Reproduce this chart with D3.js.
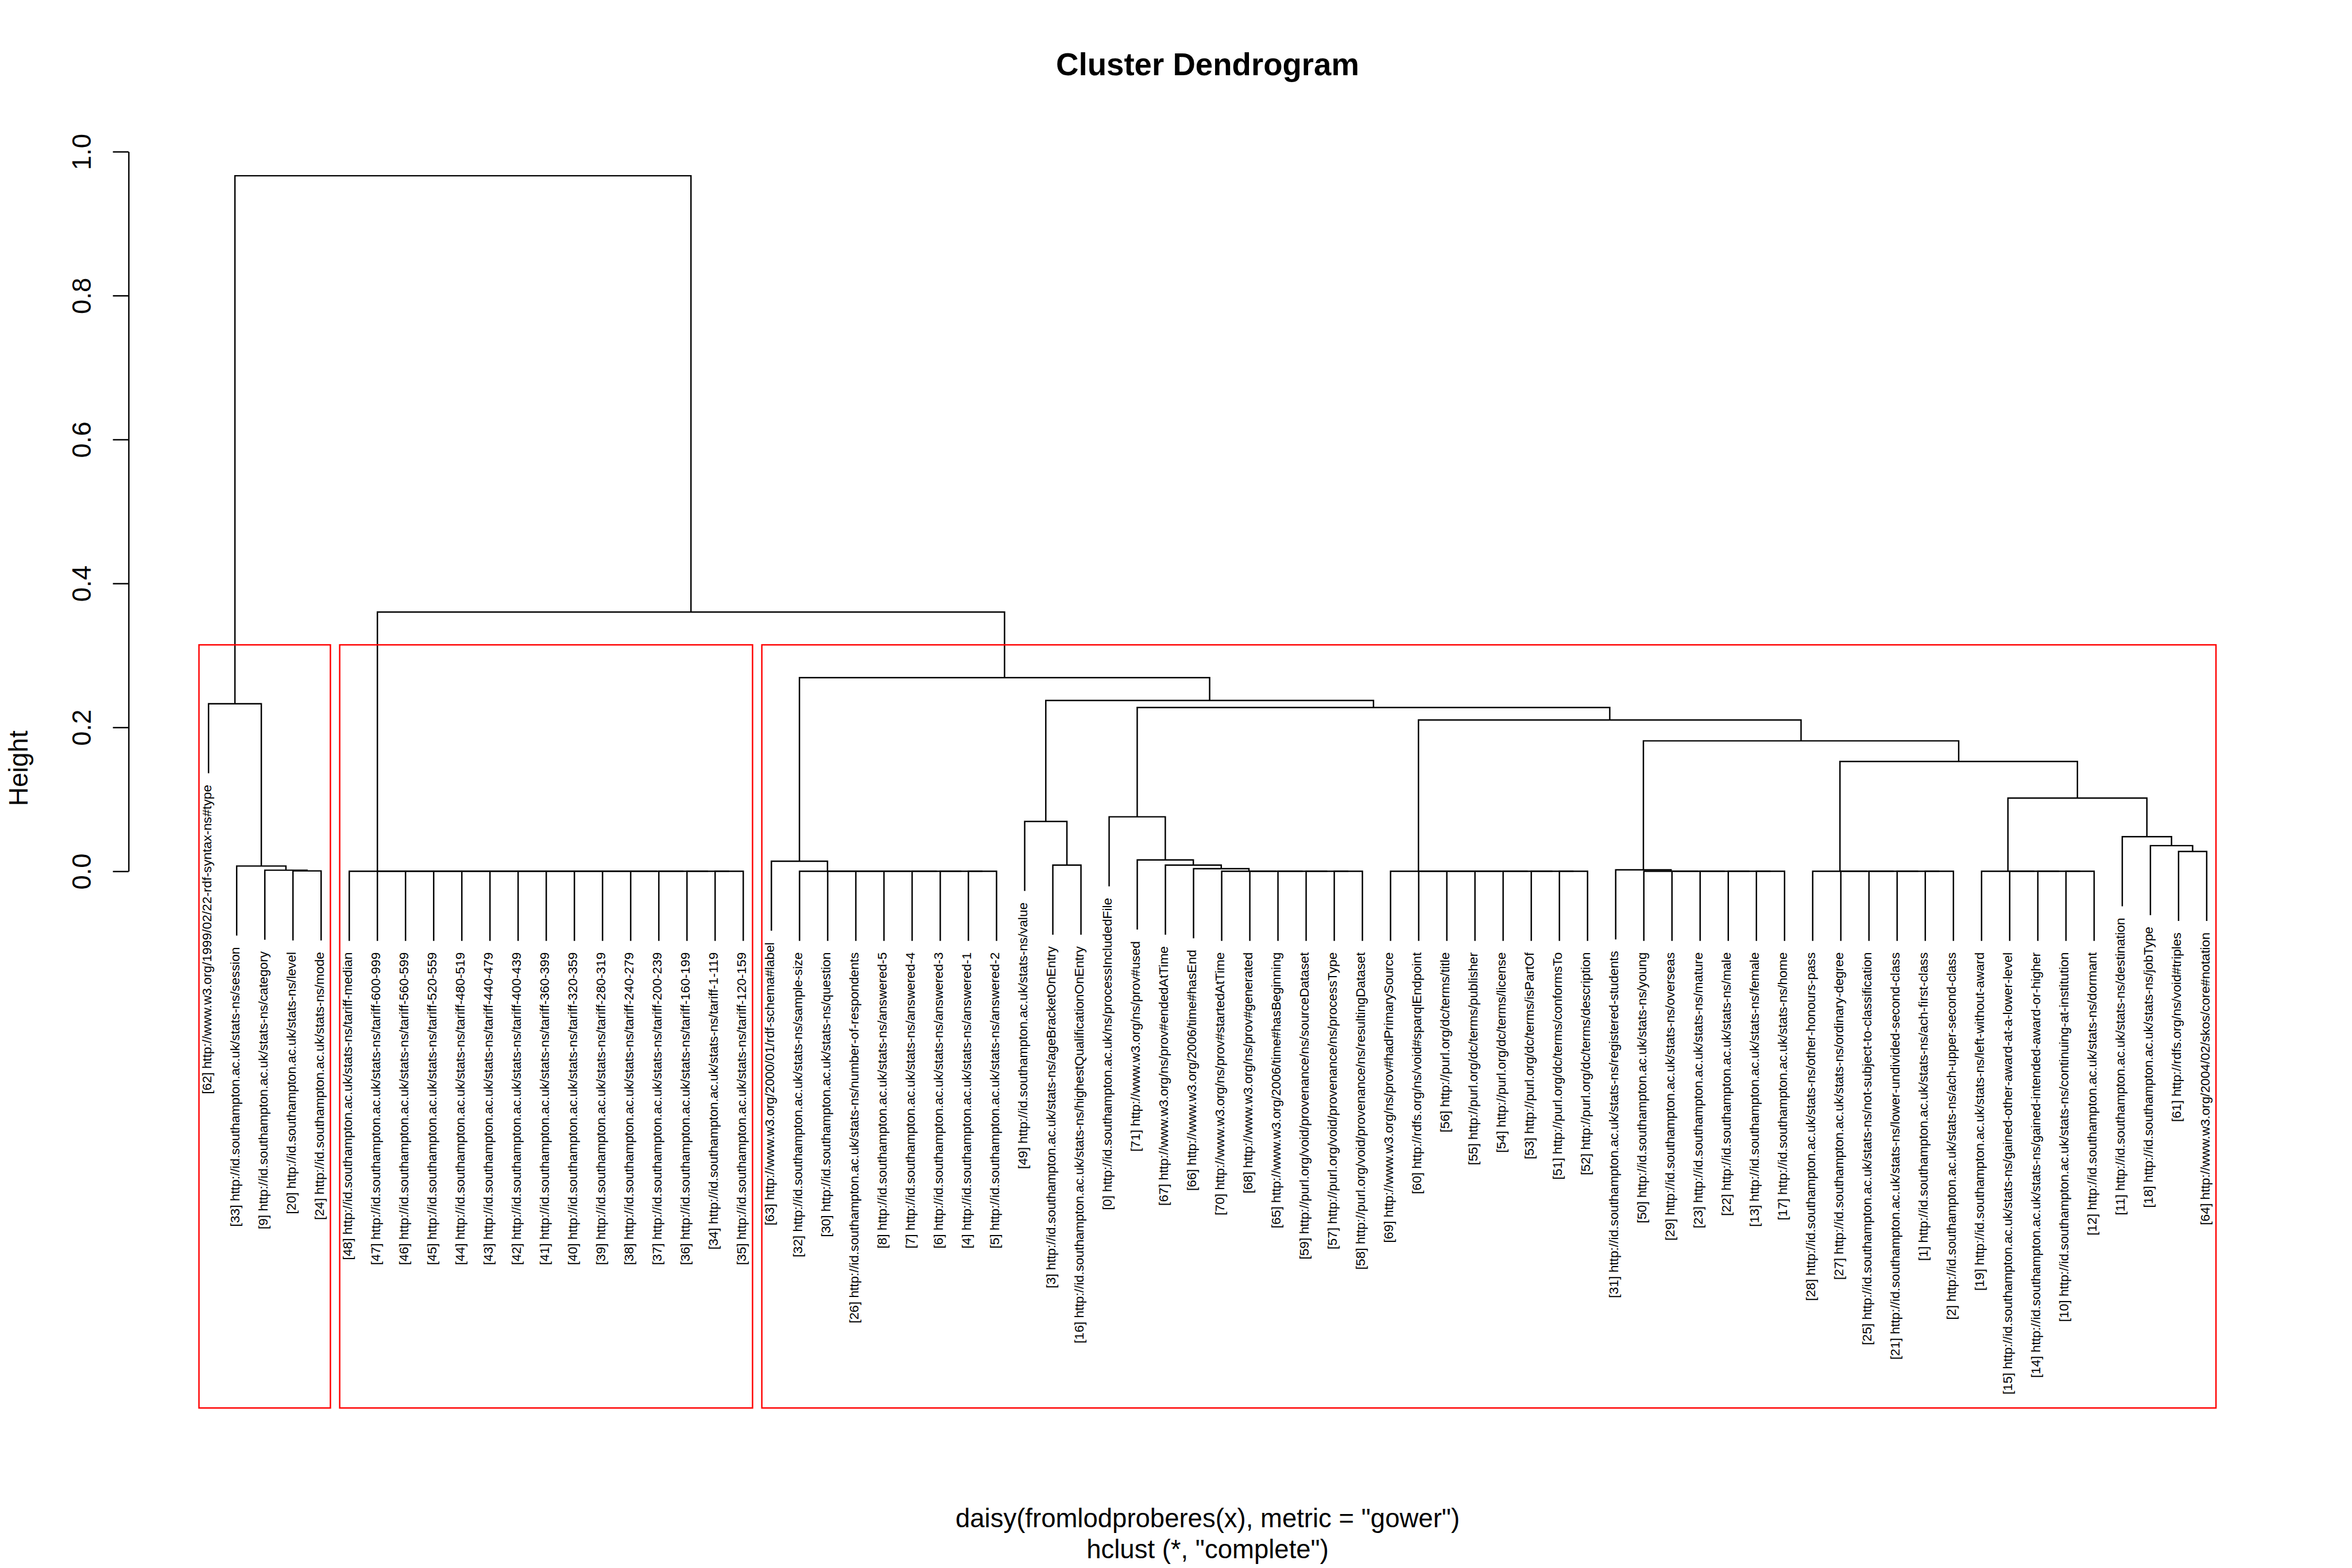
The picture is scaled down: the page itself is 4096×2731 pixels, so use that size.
<!DOCTYPE html>
<html><head><meta charset="utf-8">
<script src="https://cdn.jsdelivr.net/npm/d3@7"></script>
<style>html,body{margin:0;padding:0;background:#fff;} svg{display:block;}</style>
</head><body>
<svg id="chart" width="4096" height="2731" viewBox="0 0 4500 3000"></svg>
<script>
// ---------- DATA ----------
const chartTitle = "Cluster Dendrogram";
const xLabel = 'daisy(fromlodproberes(x), metric = "gower")';
const subLabel = 'hclust (*, "complete")';
const yLabel = "Height";
const yTicks = [0, 0.2, 0.4, 0.6, 0.8, 1.0];
const clusterCount = 3;

// leaf labels in plotting order (left to right)
const leafLabels = [
  "[62] http://www.w3.org/1999/02/22-rdf-syntax-ns#type",
  "[33] http://id.southampton.ac.uk/stats-ns/session",
  "[9] http://id.southampton.ac.uk/stats-ns/category",
  "[20] http://id.southampton.ac.uk/stats-ns/level",
  "[24] http://id.southampton.ac.uk/stats-ns/mode",
  "[48] http://id.southampton.ac.uk/stats-ns/tariff-median",
  "[47] http://id.southampton.ac.uk/stats-ns/tariff-600-999",
  "[46] http://id.southampton.ac.uk/stats-ns/tariff-560-599",
  "[45] http://id.southampton.ac.uk/stats-ns/tariff-520-559",
  "[44] http://id.southampton.ac.uk/stats-ns/tariff-480-519",
  "[43] http://id.southampton.ac.uk/stats-ns/tariff-440-479",
  "[42] http://id.southampton.ac.uk/stats-ns/tariff-400-439",
  "[41] http://id.southampton.ac.uk/stats-ns/tariff-360-399",
  "[40] http://id.southampton.ac.uk/stats-ns/tariff-320-359",
  "[39] http://id.southampton.ac.uk/stats-ns/tariff-280-319",
  "[38] http://id.southampton.ac.uk/stats-ns/tariff-240-279",
  "[37] http://id.southampton.ac.uk/stats-ns/tariff-200-239",
  "[36] http://id.southampton.ac.uk/stats-ns/tariff-160-199",
  "[34] http://id.southampton.ac.uk/stats-ns/tariff-1-119",
  "[35] http://id.southampton.ac.uk/stats-ns/tariff-120-159",
  "[63] http://www.w3.org/2000/01/rdf-schema#label",
  "[32] http://id.southampton.ac.uk/stats-ns/sample-size",
  "[30] http://id.southampton.ac.uk/stats-ns/question",
  "[26] http://id.southampton.ac.uk/stats-ns/number-of-respondents",
  "[8] http://id.southampton.ac.uk/stats-ns/answered-5",
  "[7] http://id.southampton.ac.uk/stats-ns/answered-4",
  "[6] http://id.southampton.ac.uk/stats-ns/answered-3",
  "[4] http://id.southampton.ac.uk/stats-ns/answered-1",
  "[5] http://id.southampton.ac.uk/stats-ns/answered-2",
  "[49] http://id.southampton.ac.uk/stats-ns/value",
  "[3] http://id.southampton.ac.uk/stats-ns/ageBracketOnEntry",
  "[16] http://id.southampton.ac.uk/stats-ns/highestQualificationOnEntry",
  "[0] http://id.southampton.ac.uk/ns/processIncludedFile",
  "[71] http://www.w3.org/ns/prov#used",
  "[67] http://www.w3.org/ns/prov#endedAtTime",
  "[66] http://www.w3.org/2006/time#hasEnd",
  "[70] http://www.w3.org/ns/prov#startedAtTime",
  "[68] http://www.w3.org/ns/prov#generated",
  "[65] http://www.w3.org/2006/time#hasBeginning",
  "[59] http://purl.org/void/provenance/ns/sourceDataset",
  "[57] http://purl.org/void/provenance/ns/processType",
  "[58] http://purl.org/void/provenance/ns/resultingDataset",
  "[69] http://www.w3.org/ns/prov#hadPrimarySource",
  "[60] http://rdfs.org/ns/void#sparqlEndpoint",
  "[56] http://purl.org/dc/terms/title",
  "[55] http://purl.org/dc/terms/publisher",
  "[54] http://purl.org/dc/terms/license",
  "[53] http://purl.org/dc/terms/isPartOf",
  "[51] http://purl.org/dc/terms/conformsTo",
  "[52] http://purl.org/dc/terms/description",
  "[31] http://id.southampton.ac.uk/stats-ns/registered-students",
  "[50] http://id.southampton.ac.uk/stats-ns/young",
  "[29] http://id.southampton.ac.uk/stats-ns/overseas",
  "[23] http://id.southampton.ac.uk/stats-ns/mature",
  "[22] http://id.southampton.ac.uk/stats-ns/male",
  "[13] http://id.southampton.ac.uk/stats-ns/female",
  "[17] http://id.southampton.ac.uk/stats-ns/home",
  "[28] http://id.southampton.ac.uk/stats-ns/other-honours-pass",
  "[27] http://id.southampton.ac.uk/stats-ns/ordinary-degree",
  "[25] http://id.southampton.ac.uk/stats-ns/not-subject-to-classification",
  "[21] http://id.southampton.ac.uk/stats-ns/lower-undivided-second-class",
  "[1] http://id.southampton.ac.uk/stats-ns/ach-first-class",
  "[2] http://id.southampton.ac.uk/stats-ns/ach-upper-second-class",
  "[19] http://id.southampton.ac.uk/stats-ns/left-without-award",
  "[15] http://id.southampton.ac.uk/stats-ns/gained-other-award-at-a-lower-level",
  "[14] http://id.southampton.ac.uk/stats-ns/gained-intended-award-or-higher",
  "[10] http://id.southampton.ac.uk/stats-ns/continuing-at-institution",
  "[12] http://id.southampton.ac.uk/stats-ns/dormant",
  "[11] http://id.southampton.ac.uk/stats-ns/destination",
  "[18] http://id.southampton.ac.uk/stats-ns/jobType",
  "[61] http://rdfs.org/ns/void#triples",
  "[64] http://www.w3.org/2004/02/skos/core#notation"
];

// merge steps (hclust style): negative = leaf position (1-based), positive = earlier merge step (1-based)
const merges = [
  [-4,-5],[-3,1],[-2,2],[-1,3],
  [-19,-20],[-18,5],[-17,6],[-16,7],[-15,8],[-14,9],[-13,10],[-12,11],[-11,12],[-10,13],[-9,14],[-8,15],[-7,16],[-6,17],
  [-28,-29],[-27,19],[-26,20],[-25,21],[-24,22],[-23,23],[-22,24],[-21,25],
  [-31,-32],[-30,27],
  [-41,-42],[-40,29],[-39,30],[-38,31],[-37,32],[-36,33],[-35,34],[-34,35],[-33,36],
  [-49,-50],[-48,38],[-47,39],[-46,40],[-45,41],[-44,42],[-43,43],
  [-56,-57],[-55,45],[-54,46],[-53,47],[-52,48],[-51,49],
  [-62,-63],[-61,51],[-60,52],[-59,53],[-58,54],
  [-67,-68],[-66,56],[-65,57],[-64,58],
  [-71,-72],[-70,60],[-69,61],
  [59,62],[55,63],[50,64],[44,65],[37,66],[28,67],[26,68],[18,69],[4,70]
];
const heights = [
  0.0005,0.0015,0.0073,0.2328,
  0,0,0,0,0,0,0,0,0,0,0,0,0,0,
  0,0,0,0,0,0,0,0.0140,
  0.0085,0.0693,
  0,0,0,0,0,0.0036,0.0085,0.0157,0.0757,
  0,0,0,0,0,0,0,
  0,0,0,0,0,0.0020,
  0,0,0,0,0,
  0,0,0,0,
  0.0276,0.0356,0.0480,
  0.1017,0.1526,0.1812,0.2102,0.2276,0.2374,0.2690,0.3603,0.9665
];

// ---------- BUILD TREE ----------
const built = [];
merges.forEach(([a, b], i) => {
  const child = v => v < 0 ? { label: leafLabels[-v - 1] } : built[v - 1];
  built.push({ h: heights[i], children: [child(a), child(b)] });
});
const root = d3.hierarchy(built[built.length - 1]);
d3.cluster().size([leafLabels.length, 1]).separation(() => 1)(root);
const pos = n => n.x + 0.5; // 1-based leaf position

// ---------- LAYOUT (reference pixel space 4500x3000) ----------
const plot = { left: 246, right: 4375, top: 246, bottom: 2694 };
const x = d3.scaleLinear().domain([1, leafLabels.length]).range([399, 4222]);
const y = d3.scaleLinear().domain([0, 1]).range([1667, 290]);
const hang = 0.1 * (d3.max(heights) - d3.min(heights));
const font = "'Liberation Sans', Arial, Helvetica, sans-serif";
const lw = 2.7;

const svg = d3.select("#chart");
svg.append("rect").attr("width", 4500).attr("height", 3000).attr("fill", "#fff");

// dendrogram segments
const yEnd = n => n.children ? y(n.data.h) : y(n.parent.data.h - hang);
const g = svg.append("g").attr("fill", "none").attr("stroke", "#000").attr("stroke-width", lw);
g.selectAll("path")
  .data(root.descendants().filter(n => n.children))
  .join("path")
  .attr("d", n => {
    const [l, r] = n.children;
    return `M${x(pos(l))},${yEnd(l)}V${y(n.data.h)}H${x(pos(r))}V${yEnd(r)}`;
  });

// leaf labels
svg.append("g")
  .selectAll("text")
  .data(root.leaves())
  .join("text")
  .attr("transform", n => `translate(${x(pos(n)) + 5},${yEnd(n) + 22}) rotate(-90)`)
  .attr("text-anchor", "end")
  .attr("font-family", font)
  .attr("font-size", 25)
  .text(n => n.data.label);

// cluster rectangles (rect.hclust)
const hs = heights.slice().sort((a, b) => b - a);
const cut = (hs[clusterCount - 2] + hs[clusterCount - 1]) / 2;
const clusters = root.descendants().filter(n => n.parent && (n.children ? n.data.h : -1) < cut && n.parent.data.h >= cut)
  .sort((a, b) => pos(a) - pos(b));
svg.append("g").selectAll("rect")
  .data(clusters)
  .join("rect")
  .attr("x", n => x(d3.min(n.leaves(), pos) - 0.34))
  .attr("width", n => x(d3.max(n.leaves(), pos) + 0.33) - x(d3.min(n.leaves(), pos) - 0.34))
  .attr("y", y(cut))
  .attr("height", plot.bottom - y(cut))
  .attr("fill", "none")
  .attr("stroke", "#ff0000")
  .attr("stroke-width", lw);

// y axis
const ax = svg.append("g")
  .attr("transform", `translate(${plot.left},0)`)
  .call(d3.axisLeft(y).tickValues(yTicks).tickSize(30).tickSizeOuter(0).tickFormat(d3.format(".1f")));
ax.select(".domain").attr("stroke-width", lw);
ax.selectAll(".tick line").attr("stroke-width", lw);
ax.selectAll(".tick text")
  .attr("x", null).attr("dy", null)
  .attr("transform", `translate(${174 - plot.left},0) rotate(-90)`)
  .attr("text-anchor", "middle")
  .attr("font-family", font)
  .attr("font-size", 50)
  .attr("fill", "#000");

// titles
const cx = (plot.left + plot.right) / 2;
svg.append("text").attr("x", cx).attr("y", 144).attr("text-anchor", "middle")
  .attr("font-family", font).attr("font-size", 60).attr("font-weight", "bold").text(chartTitle);
svg.append("text").attr("x", cx).attr("y", 2922).attr("text-anchor", "middle")
  .attr("font-family", font).attr("font-size", 50).text(xLabel);
svg.append("text").attr("x", cx).attr("y", 2982).attr("text-anchor", "middle")
  .attr("font-family", font).attr("font-size", 50).text(subLabel);
svg.append("text").attr("transform", `translate(53,${(plot.top + plot.bottom) / 2}) rotate(-90)`)
  .attr("text-anchor", "middle").attr("font-family", font).attr("font-size", 50).text(yLabel);
</script>
</body></html>
